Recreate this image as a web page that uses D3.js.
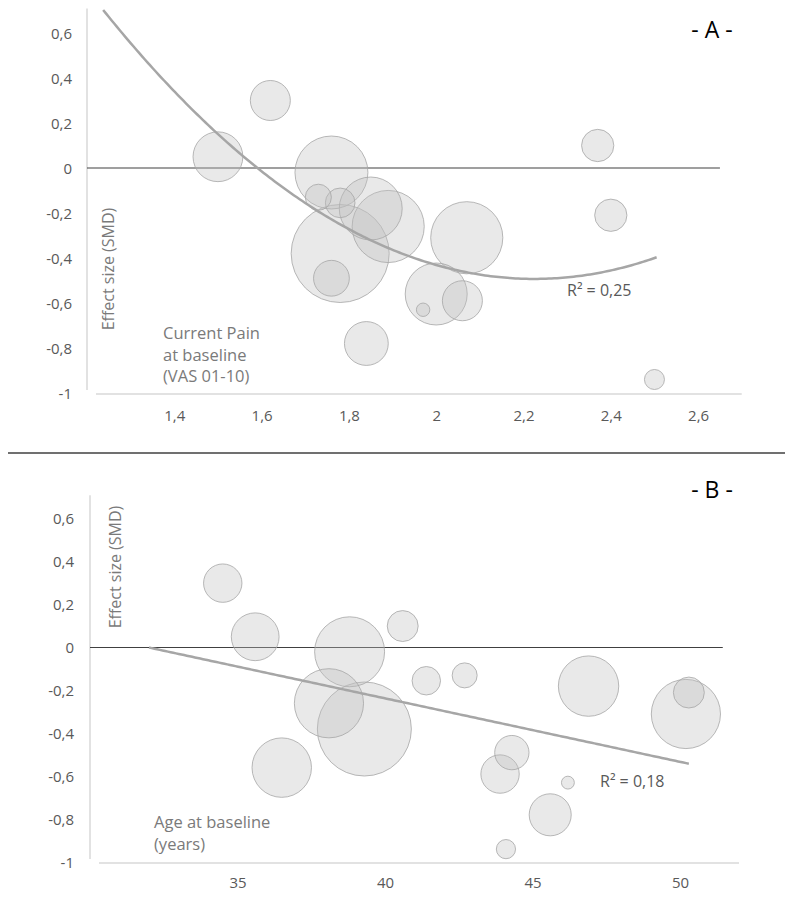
<!DOCTYPE html>
<html>
<head>
<meta charset="utf-8">
<script src="https://cdn.jsdelivr.net/npm/d3@7/dist/d3.min.js"></script>
<style>
  html, body { margin: 0; padding: 0; background: #fff; }
  svg { display: block; font-family: "Open Sans", "Noto Sans", sans-serif; }
</style>
</head>
<body>
<svg id="chart" width="796" height="901"></svg>
<script>
// ---- data ----
const effectSize = [0.30, 0.05, -0.02, 0.10, -0.13, -0.155, -0.18, -0.26, -0.38, -0.49, -0.31, -0.56, -0.59, -0.63, -0.78, -0.21, -0.94];
const currentPain = [1.62, 1.50, 1.76, 2.37, 1.73, 1.78, 1.85, 1.89, 1.78, 1.76, 2.07, 2.00, 2.06, 1.97, 1.84, 2.40, 2.50];
const ageBaseline = [34.5, 35.6, 38.8, 40.6, 42.7, 41.4, 46.9, 38.1, 39.3, 44.3, 50.2, 36.5, 43.9, 46.2, 45.6, 50.3, 44.1];
const bubbleSize = [40, 62, 133, 26, 17, 22, 99, 130, 240, 32, 130, 96, 40, 4.5, 48, 26, 10];

const yTicks = [-1, -0.8, -0.6, -0.4, -0.2, 0, 0.2, 0.4, 0.6];
const xTicksA = [1.4, 1.6, 1.8, 2, 2.2, 2.4, 2.6];
const xTicksB = [35, 40, 45, 50];

// trendlines: A polynomial (order 2) y = a x^2 + b x + c ; B linear y = m x + q
const trendA = [1.225, -5.451, 5.571];
const trendARange = [1.237, 2.505];
const trendB = [-0.0296, 0.947];
const trendBRange = [32, 50.3];

const r2A = "R² = 0,25";
const r2B = "R² = 0,18";

// ---- formatting ----
const loc = d3.formatLocale({decimal: ",", thousands: ".", grouping: [3], currency: ["", ""], minus: "-"});
const fmt = loc.format(".1~f");

const svg = d3.select("#chart");

function panel(cfg) {
  const g = svg.append("g");
  const x = d3.scaleLinear().domain(cfg.xDomain).range(cfg.xRange);
  const y = d3.scaleLinear().domain([-1, 0.7]).range(cfg.yRange);
  const r = d3.scaleSqrt().domain([0, d3.max(bubbleSize)]).range([0, cfg.rMax]);

  const clipId = "clip" + cfg.id;
  svg.append("clipPath").attr("id", clipId).append("rect")
    .attr("x", cfg.xRange[0]).attr("y", cfg.yRange[1] - 3)
    .attr("width", cfg.xRange[1] - cfg.xRange[0]).attr("height", cfg.yRange[0] - cfg.yRange[1] + 3);

  // y axis (labels only) via d3 axis
  const yAx = g.append("g").attr("transform", `translate(${cfg.yLabelX},0)`)
    .call(d3.axisLeft(y).tickValues(yTicks).tickFormat(fmt).tickSize(0).tickPadding(0));
  yAx.select(".domain").remove();
  yAx.selectAll("text").attr("fill", "#595959").style("font-size", "15px")
    .style("font-family", '"Open Sans", sans-serif').attr("dy", "0.34em");

  // x axis labels
  const xAx = g.append("g").attr("transform", `translate(0,${cfg.xLabelY})`)
    .call(d3.axisBottom(x).tickValues(cfg.xTicks).tickFormat(fmt).tickSize(0).tickPadding(0));
  xAx.select(".domain").remove();
  xAx.selectAll("text").attr("fill", "#595959").style("font-size", "15px")
    .style("font-family", '"Open Sans", sans-serif').attr("dy", "0.34em");

  // vertical axis line
  g.append("line").attr("x1", x(cfg.xDomain[0])).attr("x2", x(cfg.xDomain[0]))
    .attr("y1", y(0.7) - 2).attr("y2", y(-1) - 3)
    .attr("stroke", "#d9d9d9").attr("stroke-width", 1.5);
  // horizontal axis line at bottom
  g.append("line").attr("x1", x(cfg.xDomain[0]) + 9).attr("x2", cfg.xRange[1])
    .attr("y1", y(-1) + 1).attr("y2", y(-1) + 1)
    .attr("stroke", "#d9d9d9").attr("stroke-width", 1.5);
  // zero line
  g.append("line").attr("x1", x(cfg.xDomain[0])).attr("x2", x(cfg.zeroEnd))
    .attr("y1", y(0)).attr("y2", y(0))
    .attr("stroke", "#404040").attr("stroke-width", 1.2);

  // bubbles
  const idx = d3.range(effectSize.length).sort((a, b) => bubbleSize[b] - bubbleSize[a]);
  g.append("g").selectAll("circle").data(idx).join("circle")
    .attr("cx", i => x(cfg.xVals[i]))
    .attr("cy", i => y(effectSize[i]))
    .attr("r", i => r(bubbleSize[i]))
    .attr("fill", "#bfbfbf").attr("fill-opacity", 0.35)
    .attr("stroke", "#a6a6a6").attr("stroke-opacity", 0.8).attr("stroke-width", 1);

  // trendline
  const pts = d3.range(0, 201).map(k => {
    const xv = cfg.trendRange[0] + (cfg.trendRange[1] - cfg.trendRange[0]) * k / 200;
    return [xv, cfg.trendFn(xv)];
  });
  g.append("path").datum(pts)
    .attr("clip-path", `url(#${clipId})`)
    .attr("d", d3.line().x(d => x(d[0])).y(d => y(d[1])))
    .attr("fill", "none").attr("stroke", "#a6a6a6").attr("stroke-width", 2.5);

  // R² label
  g.append("text").attr("x", cfg.r2Pos[0]).attr("y", cfg.r2Pos[1])
    .attr("fill", "#595959").style("font-size", "16px").text(cfg.r2);

  // axis title (rotated)
  g.append("text").attr("transform", `translate(${cfg.yTitle[0]},${cfg.yTitle[1]}) rotate(-90)`)
    .attr("text-anchor", "middle").attr("dy", "0.35em")
    .attr("fill", "#7a7a7a").style("font-size", "16px").text("Effect size (SMD)");

  // x annotation
  const t = g.append("text").attr("fill", "#7a7a7a").style("font-size", "16.5px");
  cfg.xTitle.forEach((line, k) => {
    t.append("tspan").attr("x", cfg.xTitlePos[0]).attr("y", cfg.xTitlePos[1] + k * 21.5).text(line);
  });

  // panel letter
  g.append("text").attr("x", cfg.letterPos[0]).attr("y", cfg.letterPos[1])
    .attr("text-anchor", "middle").attr("fill", "#000").style("font-size", "23px").text(cfg.letter);
}

panel({
  id: "A",
  xDomain: [1.2, 2.7], xRange: [87, 741.75],
  yRange: [393, 10.5],
  rMax: 49,
  xVals: currentPain,
  xTicks: xTicksA,
  yLabelX: 72, xLabelY: 416,
  zeroEnd: 2.65,
  trendRange: trendARange,
  trendFn: v => trendA[0] * v * v + trendA[1] * v + trendA[2],
  r2: r2A, r2Pos: [567, 296],
  yTitle: [108, 269],
  xTitle: ["Current Pain", "at baseline", "(VAS 01-10)"], xTitlePos: [163, 339],
  letter: "- A -", letterPos: [712, 38]
});

panel({
  id: "B",
  xDomain: [30, 52], xRange: [90, 739],
  yRange: [862, 497.35],
  rMax: 47,
  xVals: ageBaseline,
  xTicks: xTicksB,
  yLabelX: 74, xLabelY: 883,
  zeroEnd: 51.45,
  trendRange: trendBRange,
  trendFn: v => trendB[0] * v + trendB[1],
  r2: r2B, r2Pos: [600, 787],
  yTitle: [115, 567],
  xTitle: ["Age at baseline", "(years)"], xTitlePos: [154, 828],
  letter: "- B -", letterPos: [712, 498]
});

// divider between panels
svg.append("line").attr("x1", 8).attr("x2", 785).attr("y1", 453).attr("y2", 453)
  .attr("stroke", "#404040").attr("stroke-width", 1.5);
</script>
</body>
</html>
